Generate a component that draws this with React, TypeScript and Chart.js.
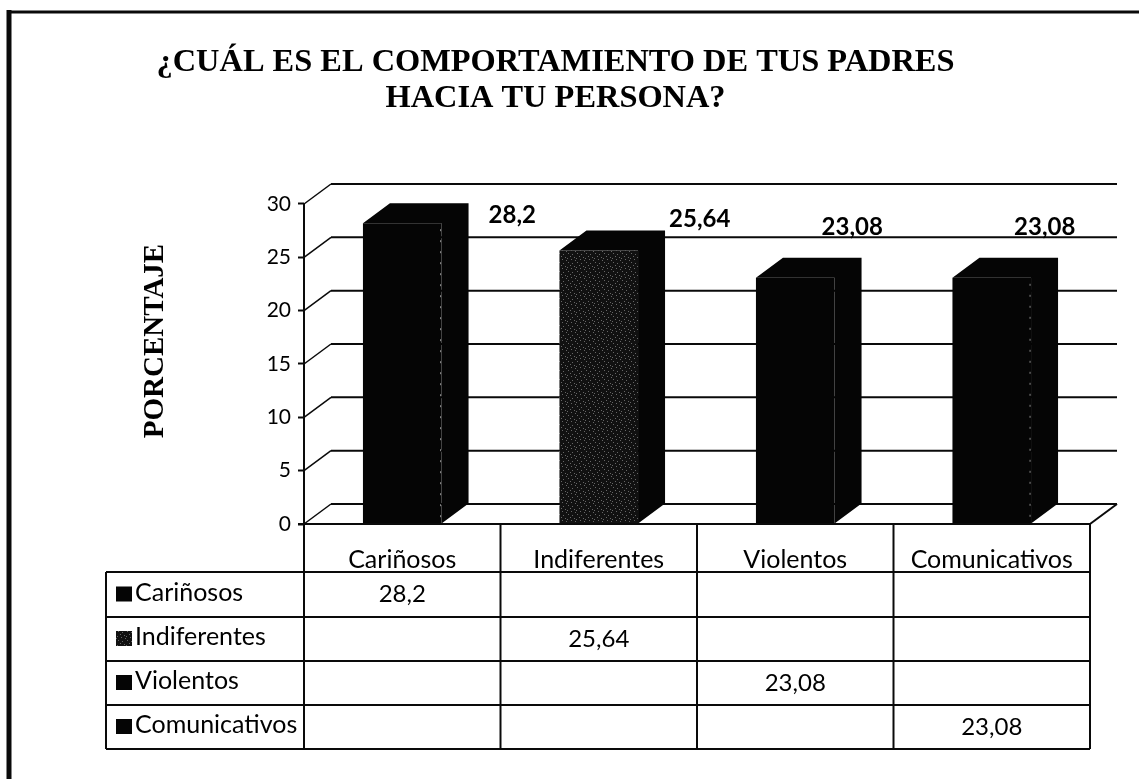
import React, { useEffect, useRef } from "react";
import { Chart, registerables } from "chart.js";

Chart.register(...registerables);

const categories = ["Cariñosos", "Indiferentes", "Violentos", "Comunicativos"];
const values = [28.2, 25.64, 23.08, 23.08];
const valueLabels = ["28,2", "25,64", "23,08", "23,08"];
const yTicks = [0, 5, 10, 15, 20, 25, 30];
const titleLines = ["¿CUÁL ES EL COMPORTAMIENTO DE TUS PADRES", "HACIA TU PERSONA?"];
const yTitle = "PORCENTAJE";

const LABEL_FONT = "Lato, Carlito, sans-serif";
const SERIF_FONT = '"Liberation Serif", serif';
const INK = "#0a0a0a";
const DEPTH_X = 27;
const DEPTH_Y = 20;
const WIDTH = 1139;
const HEIGHT = 779;
const PLOT = { left: 304, right: 1090, top: 204, bottom: 524 };
const PAD_LEFT = 21;
const ROW_LINES = [572, 617, 661, 705, 749];
const TABLE_LEFT = 106;
const LABEL_OFFSETS = [
  [110, -8],
  [101, -31],
  [57, -51],
  [53, -51],
];

function makeGrain(ctx: CanvasRenderingContext2D) {
  const tile = document.createElement("canvas");
  tile.width = 9;
  tile.height = 9;
  const t = tile.getContext("2d")!;
  t.fillStyle = "#111";
  t.fillRect(0, 0, 9, 9);
  t.fillStyle = "#666";
  [[1, 1], [5, 2], [3, 4], [7, 5], [0, 6], [4, 7], [8, 8]].forEach(([x, y]) => t.fillRect(x, y, 1, 1));
  return ctx.createPattern(tile, "repeat")!;
}

function line(ctx: CanvasRenderingContext2D, x1: number, y1: number, x2: number, y2: number) {
  ctx.beginPath();
  ctx.moveTo(x1, y1);
  ctx.lineTo(x2, y2);
  ctx.stroke();
}

const wallPlugin = {
  id: "wall",
  beforeDatasetsDraw(chart: any) {
    const { ctx, scales } = chart;
    const y = scales.y;
    const x = scales.x;
    ctx.save();
    ctx.strokeStyle = INK;
    ctx.lineWidth = 2;
    yTicks.forEach((v) => {
      const py = y.getPixelForValue(v);
      line(ctx, x.left + DEPTH_X, py - DEPTH_Y, x.right + DEPTH_X, py - DEPTH_Y);
      ctx.lineWidth = 1.5;
      line(ctx, x.left, py, x.left + DEPTH_X, py - DEPTH_Y);
      ctx.lineWidth = 2;
    });
    line(ctx, x.right, y.bottom, x.right + DEPTH_X, y.bottom - DEPTH_Y);
    ctx.restore();
  },
};

const barFacesPlugin = {
  id: "barFaces",
  afterDatasetsDraw(chart: any) {
    const { ctx } = chart;
    const meta = chart.getDatasetMeta(0);
    ctx.save();
    meta.data.forEach((bar: any, i: number) => {
      const half = bar.width / 2;
      const l = bar.x - half;
      const r = bar.x + half;
      ctx.fillStyle = "#050505";
      ctx.beginPath();
      ctx.moveTo(l, bar.y);
      ctx.lineTo(l + DEPTH_X, bar.y - DEPTH_Y);
      ctx.lineTo(r + DEPTH_X, bar.y - DEPTH_Y);
      ctx.lineTo(r + DEPTH_X, bar.base - DEPTH_Y);
      ctx.lineTo(r, bar.base);
      ctx.lineTo(r, bar.y);
      ctx.closePath();
      ctx.fill();
      if (i === 0 || i === 3) {
        ctx.strokeStyle = "#8a8a8a";
        ctx.lineWidth = 1;
        ctx.setLineDash([2, 9]);
        line(ctx, r - 1, bar.y + 6, r - 1, bar.base - 2);
        ctx.setLineDash([]);
      }
      ctx.fillStyle = "#000";
      ctx.font = `bold 24px ${LABEL_FONT}`;
      ctx.textAlign = "center";
      ctx.textBaseline = "middle";
      ctx.fillText(valueLabels[i], bar.x + LABEL_OFFSETS[i][0], bar.y + LABEL_OFFSETS[i][1]);
    });
    ctx.restore();
  },
};

const tablePlugin = {
  id: "dataTable",
  afterDraw(chart: any) {
    const { ctx, scales } = chart;
    const x = scales.x;
    const y = scales.y;
    const colW = (x.right - x.left) / categories.length;
    ctx.save();
    ctx.strokeStyle = INK;
    // outer page frame
    ctx.lineWidth = 5;
    line(ctx, 9, 10, 9, HEIGHT);
    ctx.lineWidth = 3;
    line(ctx, 7, 12, WIDTH, 12);
    // table rules
    ctx.lineWidth = 2;
    line(ctx, x.left - 6, y.bottom, x.right, y.bottom);
    line(ctx, x.left, y.top, x.left, ROW_LINES[4]);
    for (let c = 1; c <= categories.length; c++) {
      line(ctx, x.left + c * colW, y.bottom, x.left + c * colW, ROW_LINES[4]);
    }
    ROW_LINES.forEach((py) => line(ctx, TABLE_LEFT, py, x.right, py));
    line(ctx, TABLE_LEFT, ROW_LINES[0], TABLE_LEFT, ROW_LINES[4]);
    // table contents
    ctx.fillStyle = "#000";
    ctx.textBaseline = "middle";
    const fills = chart.data.datasets[0].backgroundColor;
    categories.forEach((name, i) => {
      const midY = (ROW_LINES[i] + ROW_LINES[i + 1]) / 2;
      ctx.fillStyle = fills[i];
      ctx.fillRect(116, midY - 8, 16, 15);
      ctx.fillStyle = "#000";
      ctx.font = `25px ${LABEL_FONT}`;
      ctx.textAlign = "left";
      ctx.fillText(name, 135, midY - 2);
      ctx.font = `24px ${LABEL_FONT}`;
      ctx.textAlign = "center";
      ctx.fillText(valueLabels[i], x.getPixelForValue(i), midY);
    });
    // rotated axis title
    ctx.save();
    ctx.translate(156, 341);
    ctx.rotate(-Math.PI / 2);
    ctx.textAlign = "center";
    ctx.font = `bold 29px ${SERIF_FONT}`;
    ctx.fillText(yTitle, 0, 0);
    ctx.restore();
    ctx.restore();
  },
};

export default function App() {
  const ref = useRef<HTMLCanvasElement>(null);
  useEffect(() => {
    const ctx = ref.current!.getContext("2d")!;
    const grain = makeGrain(ctx);
    const chart = new Chart(ctx, {
      type: "bar",
      data: {
        labels: categories,
        datasets: [
          {
            data: values,
            backgroundColor: ["#050505", grain, "#050505", "#050505"],
            barPercentage: 0.4,
            categoryPercentage: 1,
          },
        ],
      },
      plugins: [wallPlugin, barFacesPlugin, tablePlugin],
      options: {
        responsive: false,
        animation: false,
        layout: { padding: { left: PAD_LEFT, right: WIDTH - PLOT.right } },
        plugins: {
          legend: { display: false },
          tooltip: { enabled: false },
          title: {
            display: true,
            text: titleLines,
            color: "#000",
            font: { family: SERIF_FONT, size: 32.4, weight: "bold", lineHeight: 1.111 },
            padding: { top: 45, bottom: PLOT.top - 45 - 72 },
          },
        },
        scales: {
          x: {
            afterFit(s: any) {
              s.height = HEIGHT - PLOT.bottom;
            },
            grid: { display: false },
            border: { display: false },
            ticks: { color: "#000", font: { family: LABEL_FONT, size: 25 }, padding: 13, maxRotation: 0 },
          },
          y: {
            min: 0,
            max: 30,
            afterFit(s: any) {
              s.width = PLOT.left - PAD_LEFT;
            },
            afterBuildTicks(s: any) {
              s.ticks = yTicks.map((value) => ({ value }));
            },
            grid: { drawOnChartArea: false, tickLength: 6, tickWidth: 2, tickColor: INK },
            border: { display: false },
            ticks: { color: "#000", font: { family: LABEL_FONT, size: 21 }, padding: 7 },
          },
        },
      },
    } as any);
    return () => chart.destroy();
  }, []);
  return (
    <canvas
      ref={ref}
      width={WIDTH}
      height={HEIGHT}
      style={{ position: "fixed", left: 0, top: 0, width: WIDTH, height: HEIGHT, display: "block", background: "#fff" }}
    />
  );
}
